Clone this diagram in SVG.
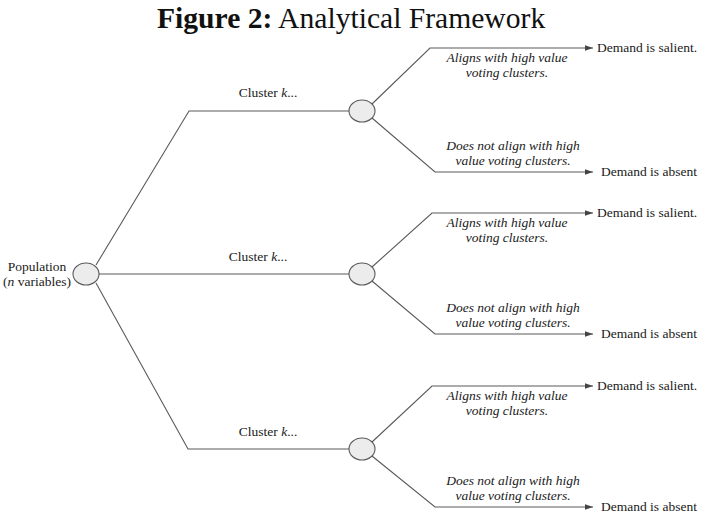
<svg xmlns="http://www.w3.org/2000/svg" width="701" height="519" viewBox="0 0 701 519">
<style>
text{font-family:"Liberation Serif","Times New Roman",serif;fill:#1a1a1a;font-size:13.5px}
.t{font-size:29.6px;fill:#111}
.i{font-style:italic}
.c{text-anchor:middle}
.ln{stroke:#5a5a5a;stroke-width:1.1;fill:none}
.ar{stroke:#5a5a5a;stroke-width:1.1;fill:none;marker-end:url(#ah)}
.nd{fill:#ececec;stroke:#5a5a5a;stroke-width:1.1}
</style>
<defs>
<marker id="ah" viewBox="0 0 10 10" refX="10" refY="5" markerWidth="8" markerHeight="8" markerUnits="userSpaceOnUse" orient="auto">
<path d="M0,1.5 L10,5 L0,8.5 z" fill="#444"/>
</marker>
</defs>
<text class="t" x="157" y="28"><tspan font-weight="bold">Figure 2:</tspan> Analytical Framework</text>
<g id="connectors">
<polyline class="ln" points="96,265 189,111 349,111"/>
<line class="ln" x1="99" y1="274" x2="349" y2="274"/>
<polyline class="ln" points="96,283 188,449 349,449"/>
<polyline class="ar" points="372,104 430,48 593,48"/>
<polyline class="ar" points="372,118 435,172 593,172"/>
<polyline class="ar" points="372,267 432,213 593,213"/>
<polyline class="ar" points="372,281 435,334 593,334"/>
<polyline class="ar" points="372,442 432,386 593,386"/>
<polyline class="ar" points="372,456 435,507 593,507"/>
</g>
<g id="population">
<ellipse class="nd" cx="86" cy="274" rx="13" ry="11"/>
<text class="c" x="37" y="271">Population</text>
<text class="c" x="37" y="286">(<tspan class="i">n</tspan> variables)</text>
</g>
<g id="cluster1">
<ellipse class="nd" cx="362" cy="111" rx="13" ry="11"/>
<text class="c" x="268" y="97">Cluster <tspan class="i">k</tspan>...</text>
</g>
<g id="cluster2">
<ellipse class="nd" cx="362" cy="274" rx="13" ry="11"/>
<text class="c" x="258" y="261">Cluster <tspan class="i">k</tspan>...</text>
</g>
<g id="cluster3">
<ellipse class="nd" cx="362" cy="449" rx="13" ry="11"/>
<text class="c" x="268" y="436">Cluster <tspan class="i">k</tspan>...</text>
</g>
<g id="labels1">
<text class="c i" x="507" y="62">Aligns with high value</text>
<text class="c i" x="507" y="77">voting clusters.</text>
<text class="c i" x="513" y="150">Does not align with high</text>
<text class="c i" x="513" y="165">value voting clusters.</text>
</g>
<g id="labels2">
<text class="c i" x="507" y="227">Aligns with high value</text>
<text class="c i" x="507" y="242">voting clusters.</text>
<text class="c i" x="513" y="312">Does not align with high</text>
<text class="c i" x="513" y="327">value voting clusters.</text>
</g>
<g id="labels3">
<text class="c i" x="507" y="400">Aligns with high value</text>
<text class="c i" x="507" y="415">voting clusters.</text>
<text class="c i" x="513" y="485">Does not align with high</text>
<text class="c i" x="513" y="500">value voting clusters.</text>
</g>
<g id="outcome1a"><text x="597" y="52">Demand is salient.</text></g>
<g id="outcome1b"><text x="601" y="176">Demand is absent</text></g>
<g id="outcome2a"><text x="597" y="217">Demand is salient.</text></g>
<g id="outcome2b"><text x="601" y="338">Demand is absent</text></g>
<g id="outcome3a"><text x="597" y="390">Demand is salient.</text></g>
<g id="outcome3b"><text x="601" y="511">Demand is absent</text></g>
</svg>
